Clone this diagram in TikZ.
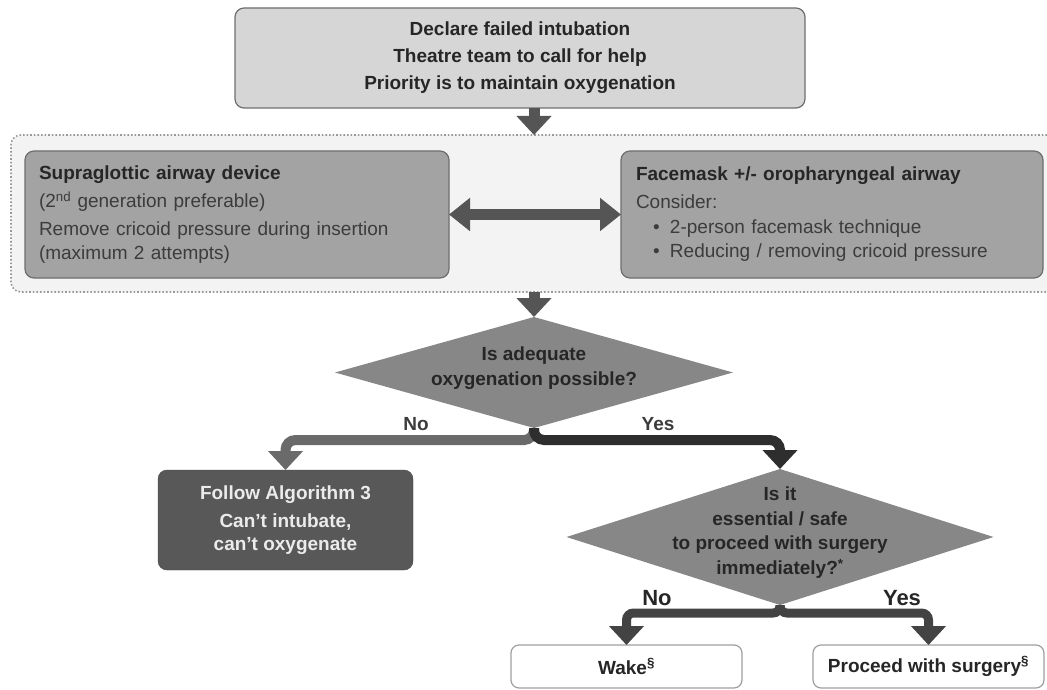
\documentclass[tikz,border=0pt]{standalone}
\usepackage{fontspec}
\setmainfont{Liberation Sans}
\usetikzlibrary{arrows.meta,shapes.geometric}

\definecolor{boxlight}{HTML}{D6D6D6}
\definecolor{regionfill}{HTML}{F3F3F3}
\definecolor{optfill}{HTML}{A3A3A3}
\definecolor{decfill}{HTML}{878787}
\definecolor{endfill}{HTML}{585858}
\definecolor{edgegray}{HTML}{6E6E6E}
\definecolor{flowgray}{HTML}{555555}
\definecolor{nogray}{HTML}{6A6A6A}
\definecolor{yesgray}{HTML}{2E2E2E}
\definecolor{textdark}{HTML}{262626}
\definecolor{textmid}{HTML}{3C3C3C}

% diamond text that does not grow the diamond
\newcommand{\diamtext}[2]{\smash{\parbox[c]{#1}{\centering #2}}}

\begin{document}
\begin{tikzpicture}
			[
				x=1pt, y=-1pt,
				every node/.style={outer sep=0pt, font=\fontsize{19}{24.5}\selectfont},
				titlebox/.style={draw=edgegray, fill=boxlight, line width=1.2pt, rounded corners=9pt,
					minimum width=570pt, minimum height=100pt, align=center, text=textdark,
					font=\fontsize{19}{27}\selectfont\bfseries},
				region/.style={draw=gray!80, dotted, line width=1.6pt, fill=regionfill, rounded corners=10pt,
					minimum width=1046pt, minimum height=157pt},
				optbox/.style={draw=edgegray, fill=optfill, line width=1.2pt, rounded corners=9pt,
					minimum height=127pt, align=left, text=textmid},
				decision/.style={diamond, fill=decfill, inner sep=0pt, text=textdark,
					font=\fontsize{19}{24.5}\selectfont\bfseries},
				endbox/.style={fill=endfill, draw=endfill!80!black, rounded corners=9pt,
					minimum width=255pt, minimum height=100pt, align=center, text=white!92!black,
					font=\fontsize{19}{23}\selectfont\bfseries},
				outbox/.style={draw=gray!75, fill=white, line width=1.2pt, rounded corners=8pt,
					minimum width=231pt, minimum height=43pt, text=textdark, font=\fontsize{19}{23}\selectfont\bfseries},
				answer/.style={text=textmid, font=\fontsize{19}{23}\selectfont\bfseries},
				bigans/.style={text=textdark, font=\fontsize{22}{26}\selectfont\bfseries},
				flow/.style={draw=flowgray, line width=11pt, -{Triangle[width=34pt,length=19pt]}},
				both/.style={draw=flowgray, line width=11pt, {Triangle[width=32pt,length=21pt]}-{Triangle[width=32pt,length=21pt]}},
				nobranch/.style={draw=nogray, line width=10pt, rounded corners=10pt, -{Triangle[width=34pt,length=19pt]}},
				yesbranch/.style={draw=yesgray, line width=10pt, rounded corners=10pt, -{Triangle[width=34pt,length=19pt]}},
				branch/.style={draw=yesgray!90!white, line width=9pt, rounded corners=7pt, -{Triangle[width=34pt,length=19pt]}}
			]
			\useasboundingbox (0,0) rectangle (1047,690);

			% boxes
			\node[titlebox] (top) at ( 520, 58 ) {Declare failed intubation\\Theatre team to call for help\\Priority is to maintain oxygenation};
			\node[region] (region) at ( 534, 213.5 ) {};
			\node[optbox, text width=396pt, inner xsep=14pt] (sga) at ( 237, 214.5 )
				{\textbf{\textcolor{textdark}{Supraglottic airway device}}\\[4pt]
				 (2\textsuperscript{nd} generation preferable)\\[3pt]
				 Remove cricoid pressure during insertion\\(maximum 2 attempts)};
			\node[optbox, text width=392pt, inner xsep=15pt] (mask) at ( 832, 214.5 )
				{\textbf{\textcolor{textdark}{Facemask +/- oropharyngeal airway}}\\[3.5pt]
				 Consider:\\
				 \hspace*{17pt}\makebox[17pt][l]{\textbullet}2-person facemask technique\\
				 \hspace*{17pt}\makebox[17pt][l]{\textbullet}Reducing / removing cricoid pressure};

			% decisions
			\node[decision, aspect=3.59, minimum width=398pt, minimum height=111pt] (d1) at ( 534, 372.5 )
				{\diamtext{240pt}{Is adequate\\oxygenation possible?}};
			\node[decision, aspect=3.14, minimum width=427pt, minimum height=136pt] (d2) at ( 780, 537 )
				{\diamtext{260pt}{Is it\\essential / safe\\to proceed with surgery\\immediately?\textsuperscript{*}}};

			% outcomes
			\node[endbox] (follow) at ( 285.5, 520 ) {Follow Algorithm 3\\[5pt]Can't intubate,\\can't oxygenate};
			\node[outbox] (wake) at ( 626.5, 666.5 ) {Wake\textsuperscript{\S}};
			\node[outbox] (proceed) at ( 928.5, 666.5 ) {Proceed with surgery\textsuperscript{\S}};

			% branch labels
			\node[answer] (no1) at ( 416, 424 ) {No};
			\node[answer] (yes1) at ( 658, 424 ) {Yes};
			\node[bigans] (no2) at ( 657, 598 ) {No};
			\node[bigans] (yes2) at ( 902, 598 ) {Yes};

			% fork points
			\coordinate (fork1) at ( 534, 440 );
			\coordinate (fork2) at ( 780, 613 );

			% connectors
			\draw[flow] (top.south -| region.north) -- (region.north);
			\draw[flow] (region.south) -- (d1.north);

			\draw[both] (sga.east) -- (mask.west);

			\draw[nobranch] (d1.south) |- (fork1 -| follow.north) -- (follow.north);
			\draw[yesbranch] (d1.south) |- (fork1 -| d2.north) -- (d2.north);
			\draw[branch] (d2.south) |- (fork2 -| wake.north) -- (wake.north);
			\draw[branch] (d2.south) |- (fork2 -| proceed.north) -- (proceed.north);

		\end{tikzpicture}
\end{document}
